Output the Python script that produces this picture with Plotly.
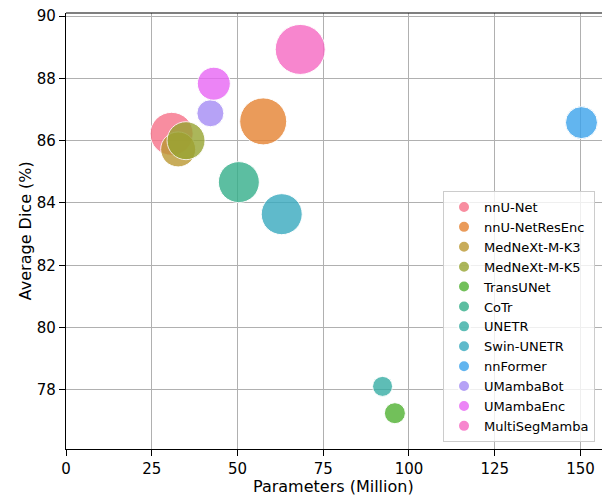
import plotly.graph_objects as go

models = ["nnU-Net", "nnU-NetResEnc", "MedNeXt-M-K3", "MedNeXt-M-K5", "TransUNet", "CoTr",
          "UNETR", "Swin-UNETR", "nnFormer", "UMambaBot", "UMambaEnc", "MultiSegMamba"]
params = [30.8, 57.5, 32.7, 35.0, 95.9, 50.4, 92.3, 62.9, 150.3, 42.1, 43.1, 68.3]
dice = [86.22, 86.62, 85.72, 86.00, 77.25, 84.67, 78.11, 83.64, 86.58, 86.88, 87.83, 88.93]
bubble = [43, 47, 35, 38, 21, 41, 20, 41, 32, 27, 33, 50]
colors = ["#f77189", "#e68332", "#bb9832", "#97a431", "#50b131", "#34af8a",
          "#36ada4", "#38aabf", "#3ba3ec", "#a48cf4", "#e866f4", "#f668c2"]
x_ticks = [0, 25, 50, 75, 100, 125, 150]
y_ticks = [78, 80, 82, 84, 86, 88, 90]

FONT = "DejaVu Sans"
fig = go.Figure()
for m, x, y, s, c in zip(models, params, dice, bubble, colors):
    fig.add_trace(go.Scatter(
        x=[x], y=[y], mode="markers", name=m,
        marker=dict(size=[s], sizemode="diameter", color=c, opacity=0.8,
                    line=dict(color="white", width=1)),
    ))

axis_common = dict(showline=True, linecolor="black", linewidth=1.2, ticks="outside",
                   ticklen=6, tickwidth=1.2, tickcolor="black", showgrid=True,
                   gridcolor="#b0b0b0", gridwidth=1.2, zeroline=False, automargin=False,
                   tickfont=dict(family=FONT, size=15, color="black"))
fig.update_layout(
    width=612, height=495,
    margin=dict(l=66, r=0, t=13, b=46, autoexpand=False),
    plot_bgcolor="white", paper_bgcolor="white",
    font=dict(family=FONT, size=15, color="black"),
    xaxis=dict(range=[0, 159.2], tickvals=x_ticks, mirror=False, **axis_common),
    yaxis=dict(range=[76.1, 90.1], tickvals=y_ticks, **axis_common),
    legend=dict(x=0.9689, y=0.016, xanchor="right", yanchor="bottom",
                bgcolor="rgba(255,255,255,0.8)", bordercolor="#cccccc", borderwidth=1,
                font=dict(family=FONT, size=13, color="black"), itemsizing="constant",
                tracegroupgap=0),
    showlegend=True,
)
fig.add_shape(type="line", xref="paper", yref="paper", x0=0, x1=1, y0=1, y1=1,
              line=dict(color="black", width=1.2))
fig.add_annotation(text="Parameters (Million)", xref="paper", yref="paper", x=0.4908, y=-0.085,
                   xanchor="center", yanchor="middle", showarrow=False,
                   font=dict(family=FONT, size=16, color="black"))
fig.add_annotation(text="Average Dice (%)", xref="paper", yref="paper", x=-0.0747, y=0.5,
                   xanchor="center", yanchor="middle", showarrow=False, textangle=-90,
                   font=dict(family=FONT, size=16, color="black"))
fig.write_html("out.html", config={"displayModeBar": False},
               post_script="document.body.style.margin='0';document.body.style.overflow='hidden';")
